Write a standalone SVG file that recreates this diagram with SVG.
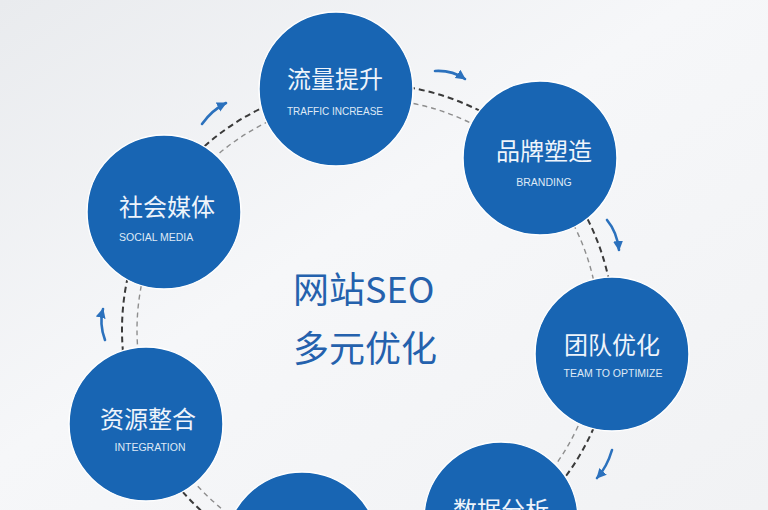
<svg xmlns="http://www.w3.org/2000/svg" width="768" height="510" viewBox="0 0 768 510">
  <defs>
    <linearGradient id="bg" x1="0" y1="0" x2="1" y2="1">
      <stop offset="0" stop-color="#e9ebee"/>
      <stop offset="0.45" stop-color="#f6f7f9"/>
      <stop offset="1" stop-color="#f1f2f4"/>
    </linearGradient>
    <marker id="ah" markerWidth="12" markerHeight="12" refX="9" refY="5" orient="auto" markerUnits="userSpaceOnUse">
      <path d="M0,0 L10,5 L0,10 Z" fill="#2b71bd"/>
    </marker>
    <style>
      .node { fill: #1865b3; stroke: #ffffff; stroke-width: 1.5; }
      .cn { font-family: "Noto Sans CJK SC", "Liberation Sans", sans-serif; font-size: 24px; fill: #eef4fb; text-anchor: middle; }
      .en { font-family: "Liberation Sans", "Noto Sans", sans-serif; font-size: 10.5px; fill: #dfe9f6; text-anchor: middle; }
      .en-start { font-family: "Liberation Sans", "Noto Sans", sans-serif; font-size: 10.5px; fill: #dfe9f6; text-anchor: start; }
      .dark { fill: none; stroke: #3a3a3a; stroke-width: 2; stroke-dasharray: 6 4; }
      .gray { fill: none; stroke: #8e8e8e; stroke-width: 1.4; stroke-dasharray: 5 4; }
      .arrow { fill: none; stroke: #2b71bd; stroke-width: 2.6; stroke-linecap: round; marker-end: url(#ah); }
      .title { font-family: "Noto Sans CJK SC", sans-serif; font-size: 36px; fill: #2461ad; }
    </style>
  </defs>
  <rect x="0" y="0" width="768" height="510" fill="url(#bg)"/>

  <g id="connectors">
    <circle class="dark" cx="368" cy="330" r="246"/>
    <circle class="gray" cx="368" cy="330" r="231"/>
    <path class="arrow" d="M435,71 Q452,70 465,79"/>
    <path class="arrow" d="M607,220 Q617,232 619,250"/>
    <path class="arrow" d="M612,450 Q607,467 597,478"/>
    <path class="arrow" d="M105,340 Q99,324 103,309"/>
    <path class="arrow" d="M202,124 Q212,110 226,103"/>
  </g>

  <g id="node-traffic">
    <circle class="node" cx="336" cy="89" r="77"/>
    <text class="cn" x="335" y="88">流量提升</text>
    <text class="en" x="335" y="115" textLength="96" lengthAdjust="spacingAndGlyphs">TRAFFIC INCREASE</text>
  </g>

  <g id="node-branding">
    <circle class="node" cx="540" cy="158" r="77"/>
    <text class="cn" x="544" y="160">品牌塑造</text>
    <text class="en" x="544" y="186">BRANDING</text>
  </g>

  <g id="node-team">
    <circle class="node" cx="612" cy="354" r="77"/>
    <text class="cn" x="612" y="354">团队优化</text>
    <text class="en" x="613" y="377">TEAM TO OPTIMIZE</text>
  </g>

  <g id="node-data">
    <circle class="node" cx="501" cy="519" r="77"/>
    <text class="cn" x="501" y="519">数据分析</text>
  </g>

  <g id="node-bottom">
    <circle class="node" cx="302" cy="549" r="77"/>
  </g>

  <g id="node-integration">
    <circle class="node" cx="146" cy="424" r="77"/>
    <text class="cn" x="148" y="428">资源整合</text>
    <text class="en" x="150" y="451">INTEGRATION</text>
  </g>

  <g id="node-social">
    <circle class="node" cx="164" cy="212" r="77"/>
    <text class="cn" x="167" y="216">社会媒体</text>
    <text class="en-start" x="119" y="241">SOCIAL MEDIA</text>
  </g>

  <g id="center-title">
    <text class="title" x="293" y="303">网站SEO</text>
    <text class="title" x="293" y="362">多元优化</text>
  </g>
</svg>
